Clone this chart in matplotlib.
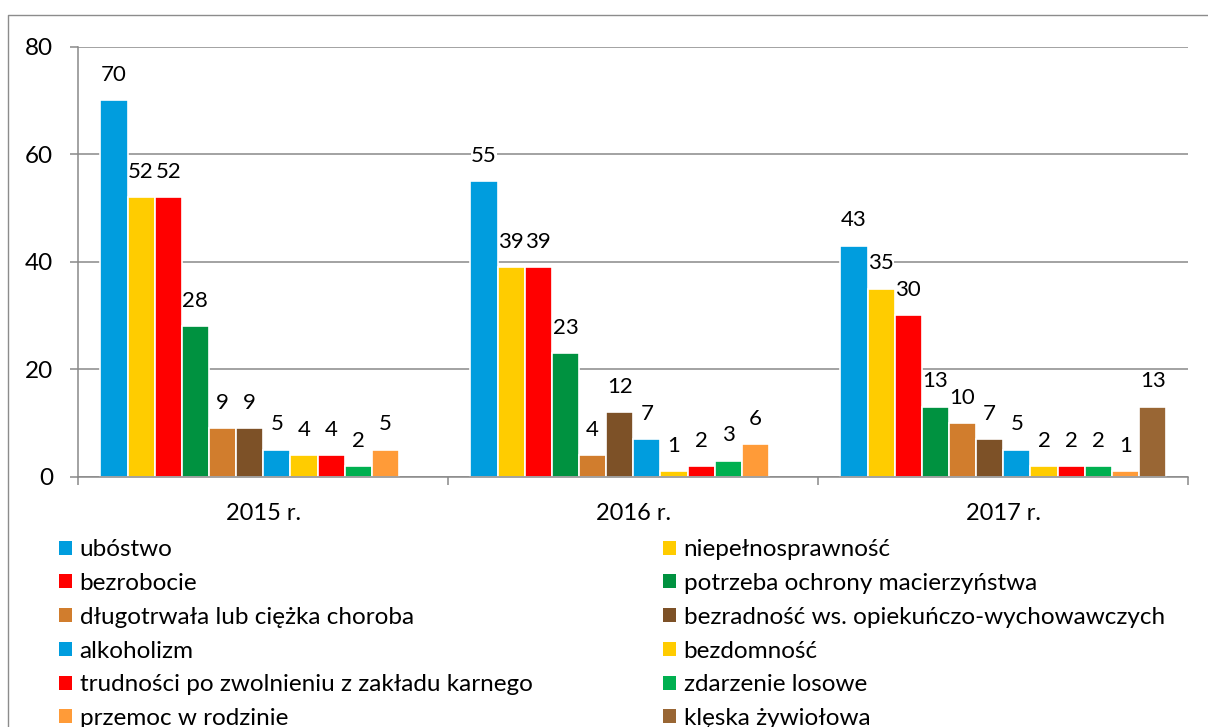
import matplotlib
matplotlib.use("Agg")
import matplotlib.pyplot as plt
import numpy as np
from matplotlib.patches import Patch
from matplotlib.lines import Line2D

years = ['2015 r.', '2016 r.', '2017 r.']
categories = ['ubóstwo', 'niepełnosprawność', 'bezrobocie',
              'potrzeba ochrony macierzyństwa', 'długotrwała lub ciężka choroba',
              'bezradność ws. opiekuńczo-wychowawczych', 'alkoholizm', 'bezdomność',
              'trudności po zwolnieniu z zakładu karnego', 'zdarzenie losowe',
              'przemoc w rodzinie', 'klęska żywiołowa']
# one row per category: 2015, 2016, 2017 (None = no bar)
values = [
    [70, 55, 43],
    [52, 39, 35],
    [52, 39, 30],
    [28, 23, 13],
    [9, 4, 10],
    [9, 12, 7],
    [5, 7, 5],
    [4, 1, 2],
    [4, 2, 2],
    [2, 3, 2],
    [5, 6, 1],
    [None, None, 13],
]
colors = ['#009dde', '#ffcc00', '#ff0000', '#009240', '#d17d2d', '#7d5127',
          '#009dde', '#ffcc00', '#ff0000', '#00b050', '#ff9b38', '#996634']

plt.rcParams['font.family'] = ['Lato', 'DejaVu Sans']
GRAY = '#898989'

fig = plt.figure(figsize=(12.08, 7.27), dpi=100)
W, H = 1208, 727
ax = fig.add_axes([78.3 / W, 1 - 476.7 / H, 1110 / W, (476.7 - 46.7) / H])

n = len(categories)
slot = 0.0734
x = np.arange(len(years))
for j, (cat, vals, col) in enumerate(zip(categories, values, colors)):
    for i, v in enumerate(vals):
        if v is None:
            continue
        xp = x[i] + (j - (n - 1) / 2) * slot
        ax.bar(xp, v, width=slot, color=col, edgecolor='white', linewidth=1.2, zorder=2)
        ax.annotate(str(v), (xp, v), xytext=(0, 14), textcoords='offset points',
                    ha='center', va='baseline', fontsize=16, color='black', zorder=4,
                    bbox=dict(facecolor='white', edgecolor='none', pad=0.2))

ax.set_xlim(-0.5, 2.5)
ax.set_ylim(0, 80)
ax.set_yticks([0, 20, 40, 60, 80])
ax.yaxis.grid(True, color=GRAY, linewidth=1.1)
ax.set_axisbelow(True)
ax.tick_params(axis='y', length=5.8, width=1.1, color=GRAY, pad=12.5, labelsize=17.5)
ax.set_xticks(x)
ax.set_xticklabels(years)
ax.set_xticks([-0.5, 0.5, 1.5, 2.5], minor=True)
ax.tick_params(axis='x', which='major', length=0, pad=19, labelsize=17)
ax.tick_params(axis='x', which='minor', length=5.8, width=1.1, color=GRAY)
for s in ['top', 'right']:
    ax.spines[s].set_visible(False)
for s in ['left', 'bottom']:
    ax.spines[s].set_color(GRAY)
    ax.spines[s].set_linewidth(1.1)

handles = [Patch(facecolor=c, edgecolor='none', label=l) for l, c in zip(categories, colors)]
leg_kw = dict(loc='upper left', frameon=False, fontsize=17.5, borderpad=0, borderaxespad=0,
              handlelength=0.51, handleheight=0.51, handletextpad=0.33, labelspacing=0.525)
fig.legend(handles=handles[0::2], bbox_to_anchor=(59.3 / W, 1 - 539.3 / H), **leg_kw)
fig.legend(handles=handles[1::2], bbox_to_anchor=(663.3 / W, 1 - 539.3 / H), **leg_kw)

# outer frame (cut off at right and bottom edges)
fig.add_artist(Line2D([8.3 / W, 8.3 / W, 1.0], [0.0, 1 - 14.7 / H, 1 - 14.7 / H],
                      transform=fig.transFigure, color='#8c8c8c', linewidth=1.0))

fig.savefig('out.png', dpi=100)
